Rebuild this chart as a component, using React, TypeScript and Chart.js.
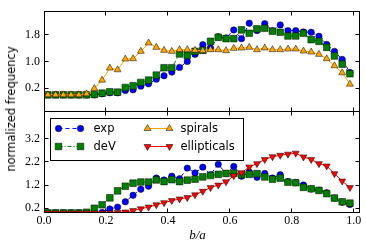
import React, { useEffect, useRef } from 'react';
import { Chart, registerables } from 'chart.js';
Chart.register(...registerables);

const binCenters = [0.0125, 0.0375, 0.0625, 0.0875, 0.1125, 0.1375, 0.1625, 0.1875, 0.2125, 0.2375,
  0.2625, 0.2875, 0.3125, 0.3375, 0.3625, 0.3875, 0.4125, 0.4375, 0.4625, 0.4875,
  0.5125, 0.5375, 0.5625, 0.5875, 0.6125, 0.6375, 0.6625, 0.6875, 0.7125, 0.7375,
  0.7625, 0.7875, 0.8125, 0.8375, 0.8625, 0.8875, 0.9125, 0.9375, 0.9625, 0.9875];

const topExp = [0, 0, 0, 0, 0, 0, 0, 0.03, 0.06, 0.06, 0.13, 0.15, 0.26, 0.33, 0.47, 0.57, 0.68, 0.82, 1.0, 1.21,
  1.5, 1.4, 1.74, 1.7, 1.94, 1.68, 2.14, 1.92, 2.13, 1.92, 2.09, 1.92, 1.92, 1.88, 1.87, 1.75, 1.51, 1.3, 1.06, 0.67];
const topDeV = [0, 0, 0, 0, 0, 0, 0.01, 0.05, 0.09, 0.08, 0.22, 0.27, 0.37, 0.44, 0.59, 0.81, 0.81, 1.22, 1.18, 1.3,
  1.33, 1.6, 1.72, 1.68, 1.68, 1.94, 1.84, 1.97, 1.99, 1.9, 1.87, 1.76, 1.76, 1.84, 1.65, 1.6, 1.42, 1.16, 0.92, 0.63];
const topSpirals = [0, 0, 0, 0, 0, 0.03, 0.19, 0.44, 0.8, 0.75, 1.07, 1.08, 1.3, 1.55, 1.42, 1.33, 1.3, 1.35, 1.35, 1.33,
  1.32, 1.35, 1.35, 1.32, 1.39, 1.4, 1.42, 1.35, 1.4, 1.35, 1.35, 1.37, 1.37, 1.31, 1.28, 1.21, 1.08, 0.87, 0.66, 0.32];

const botExp = [0, 0, 0, 0, 0, 0, 0, 0.02, 0.17, 0.25, 0.48, 0.76, 1.02, 1.15, 1.5, 1.42, 1.58, 1.47, 1.93, 1.72,
  1.97, 1.65, 2.09, 1.7, 2.0, 1.58, 1.76, 1.53, 1.7, 1.5, 1.64, 1.35, 1.31, 1.2, 1.03, 0.98, 0.87, 0.64, 0.46, 0.36];
const botDeV = [0, 0, 0, 0, 0, 0.03, 0.2, 0.35, 0.65, 0.95, 1.15, 1.28, 1.33, 1.33, 1.42, 1.35, 1.43, 1.35, 1.41, 1.45,
  1.55, 1.61, 1.66, 1.7, 1.71, 1.64, 1.66, 1.69, 1.55, 1.45, 1.5, 1.32, 1.3, 1.1, 1.04, 0.97, 0.83, 0.64, 0.48, 0.42];
const botEllipticals = [0, 0, 0, 0, 0, 0, 0, 0, 0, 0.02, 0.04, 0.1, 0.18, 0.25, 0.35, 0.44, 0.53, 0.6, 0.66, 0.78,
  0.93, 1.09, 1.2, 1.34, 1.6, 1.73, 1.98, 2.12, 2.3, 2.42, 2.48, 2.53, 2.57, 2.41, 2.3, 2.12, 2.02, 1.69, 1.37, 1.09];

const xTicks = [0.0, 0.2, 0.4, 0.6, 0.8, 1.0];
const topTicks = [0.2, 1.0, 1.8];
const botTicks = [0.2, 1.2, 2.2, 3.2];

const legendLabels = ['exp', 'deV', 'spirals', 'ellipticals'];

const BLUE = '#0000ff';
const GREEN = '#008000';
const ORANGE = '#ffa500';
const RED = '#ff0000';

const tickFont = { family: "'Liberation Serif', 'DejaVu Serif', serif", size: 12 };

function pts(arr: number[]) {
  return binCenters.map((x, i) => ({ x, y: arr[i] }));
}

function drawMarker(ctx: CanvasRenderingContext2D, style: string, x: number, y: number, color: string) {
  ctx.save();
  ctx.fillStyle = color;
  ctx.strokeStyle = '#000';
  ctx.lineWidth = 0.5;
  ctx.beginPath();
  if (style === 'circle') {
    ctx.arc(x, y, 3.2, 0, Math.PI * 2);
  } else if (style === 'rect') {
    const s = 3.3;
    ctx.rect(x - s, y - s, 2 * s, 2 * s);
  } else {
    const r = 4;
    const rot = style === 'down' ? Math.PI : 0;
    for (let k = 0; k < 3; k++) {
      const a = rot + k * (2 * Math.PI / 3);
      const px = x + Math.sin(a) * r;
      const py = y - Math.cos(a) * r;
      if (k === 0) ctx.moveTo(px, py); else ctx.lineTo(px, py);
    }
    ctx.closePath();
  }
  ctx.fill();
  ctx.stroke();
  ctx.restore();
}

const framePlugin = {
  id: 'frame',
  afterDatasetsDraw(chart: any) {
    const ctx: CanvasRenderingContext2D = chart.ctx;
    const xs = chart.scales.x;
    const panels = [
      { s: chart.scales.yTop, t: topTicks },
      { s: chart.scales.yBot, t: botTicks },
    ];
    const L = Math.floor(xs.left) + 0.5;
    const R = Math.floor(xs.right) - 0.5;
    ctx.save();
    ctx.strokeStyle = '#000';
    ctx.lineWidth = 1;
    panels.forEach(({ s, t }) => {
      const T = Math.floor(s.top) + 0.5;
      const B = Math.floor(s.bottom) + 0.5;
      ctx.strokeRect(L, T, R - L, B - T);
      ctx.beginPath();
      xTicks.forEach((v) => {
        const px = Math.floor(xs.getPixelForValue(v)) + 0.5;
        ctx.moveTo(px, T); ctx.lineTo(px, T + 4);
        ctx.moveTo(px, B); ctx.lineTo(px, B - 4);
      });
      t.forEach((v) => {
        const py = Math.floor(s.getPixelForValue(v)) + 0.5;
        ctx.moveTo(L, py); ctx.lineTo(L + 4, py);
        ctx.moveTo(R, py); ctx.lineTo(R - 4, py);
      });
      ctx.stroke();
    });
    ctx.restore();
  },
};

const legendPlugin = {
  id: 'customLegend',
  afterDraw(chart: any) {
    const ctx: CanvasRenderingContext2D = chart.ctx;
    const xs = chart.scales.x;
    const yb = chart.scales.yBot;
    const bx = Math.floor(xs.left) + 6.5;
    const by = Math.floor(yb.top) + 7.5;
    const bw = 193;
    const bh = 42;
    ctx.save();
    ctx.fillStyle = '#fff';
    ctx.fillRect(bx, by, bw, bh);
    ctx.strokeStyle = '#000';
    ctx.lineWidth = 1;
    ctx.strokeRect(bx, by, bw, bh);
    const items = [
      { label: legendLabels[0], color: BLUE, style: 'circle', dash: [4, 3], col: 0, row: 0 },
      { label: legendLabels[1], color: GREEN, style: 'rect', dash: [4, 2, 1, 2], col: 0, row: 1 },
      { label: legendLabels[2], color: ORANGE, style: 'up', dash: [], col: 1, row: 0 },
      { label: legendLabels[3], color: RED, style: 'down', dash: [], col: 1, row: 1 },
    ];
    ctx.font = "11.5px 'DejaVu Sans', sans-serif";
    ctx.textBaseline = 'middle';
    items.forEach((it) => {
      const x1 = bx + (it.col === 0 ? 8 : 97);
      const x2 = x1 + 22;
      const tx = bx + (it.col === 0 ? 43 : 130);
      const y = by + (it.row === 0 ? 10 : 28);
      ctx.save();
      ctx.strokeStyle = it.color;
      ctx.lineWidth = 1;
      ctx.setLineDash(it.dash);
      ctx.beginPath();
      ctx.moveTo(x1, y);
      ctx.lineTo(x2, y);
      ctx.stroke();
      ctx.restore();
      drawMarker(ctx, it.style, x1, y, it.color);
      drawMarker(ctx, it.style, x2, y, it.color);
      ctx.fillStyle = '#000';
      ctx.fillText(it.label, tx, y + 0.5);
    });
    ctx.restore();
  },
};

function ds(label: string, data: number[], axis: string, color: string, style: string, radius: number, dash: number[], order: number, rotation = 0) {
  return {
    label,
    data: pts(data),
    yAxisID: axis,
    xAxisID: 'x',
    borderColor: color,
    borderWidth: 1,
    borderDash: dash,
    backgroundColor: color,
    pointStyle: style,
    pointRadius: radius,
    pointRotation: rotation,
    pointBackgroundColor: color,
    pointBorderColor: '#000',
    pointBorderWidth: 0.5,
    tension: 0,
    fill: false,
    order,
  };
}

export default function App() {
  const ref = useRef<HTMLCanvasElement>(null);
  useEffect(() => {
    const chart = new Chart(ref.current as HTMLCanvasElement, {
      type: 'line',
      data: {
        datasets: [
          ds(legendLabels[2], topSpirals, 'yTop', ORANGE, 'triangle', 4, [], 0),
          ds(legendLabels[1], topDeV, 'yTop', GREEN, 'rect', 4.7, [4, 2, 1, 2], 1),
          ds(legendLabels[0], topExp, 'yTop', BLUE, 'circle', 3.2, [4, 3], 2),
          ds(legendLabels[3], botEllipticals, 'yBot', RED, 'triangle', 4, [], 3, 180),
          ds(legendLabels[1], botDeV, 'yBot', GREEN, 'rect', 4.7, [4, 2, 1, 2], 4),
          ds(legendLabels[0], botExp, 'yBot', BLUE, 'circle', 3.2, [4, 3], 5),
        ] as any,
      },
      options: {
        animation: false,
        responsive: false,
        maintainAspectRatio: false,
        devicePixelRatio: 1,
        layout: { padding: { top: 3, right: 6, left: 0, bottom: 0 } },
        plugins: { legend: { display: false }, tooltip: { enabled: false } },
        scales: {
          x: {
            type: 'linear',
            min: 0,
            max: 1.02,
            grid: { display: false, drawTicks: false },
            border: { display: false },
            ticks: { font: tickFont, color: '#000', padding: 2, maxRotation: 0, callback: (v: any) => Number(v).toFixed(1) },
            afterBuildTicks: (s: any) => { s.ticks = xTicks.map((v) => ({ value: v })); },
            afterFit: (s: any) => { s.height = 36; },
          },
          yBot: {
            type: 'linear',
            position: 'left',
            stack: 'v',
            stackWeight: 1,
            min: 0.04,
            max: 4.36,
            grid: { display: false, drawTicks: false },
            border: { display: false },
            ticks: { font: tickFont, color: '#000', padding: 4, callback: (v: any) => Number(v).toFixed(1) },
            afterBuildTicks: (s: any) => { s.ticks = botTicks.map((v) => ({ value: v })); },
            afterFit: (s: any) => { s.width = 44; },
          },
          yTop: {
            type: 'linear',
            position: 'left',
            stack: 'v',
            stackWeight: 1,
            min: -0.5,
            max: 2.5,
            grid: { display: false, drawTicks: false },
            border: { display: false },
            ticks: { font: tickFont, color: '#000', padding: 4, callback: (v: any) => Number(v).toFixed(1) },
            afterBuildTicks: (s: any) => { s.ticks = topTicks.map((v) => ({ value: v })); },
            afterFit: (s: any) => { s.width = 44; },
          },
        } as any,
      },
      plugins: [framePlugin, legendPlugin],
    });
    return () => chart.destroy();
  }, []);
  return (
    <div style={{ position: 'absolute', left: 0, top: 0, width: 366, height: 248, background: '#fff' }}>
      <canvas ref={ref} width={366} height={248} style={{ position: 'absolute', left: 0, top: 0, width: 366, height: 248 }} />
      <div style={{ position: 'absolute', left: 11, top: 108.5, transform: 'translate(-50%, -50%) rotate(-90deg)', font: "11.5px 'DejaVu Sans', sans-serif", whiteSpace: 'nowrap', color: '#000' }}>
        normalized frequency
      </div>
      <div style={{ position: 'absolute', left: 197.5, top: 235, transform: 'translate(-50%, -50%)', font: "italic 13px 'Liberation Serif', 'DejaVu Serif', serif", whiteSpace: 'nowrap', color: '#000' }}>
        b/a
      </div>
    </div>
  );
}
